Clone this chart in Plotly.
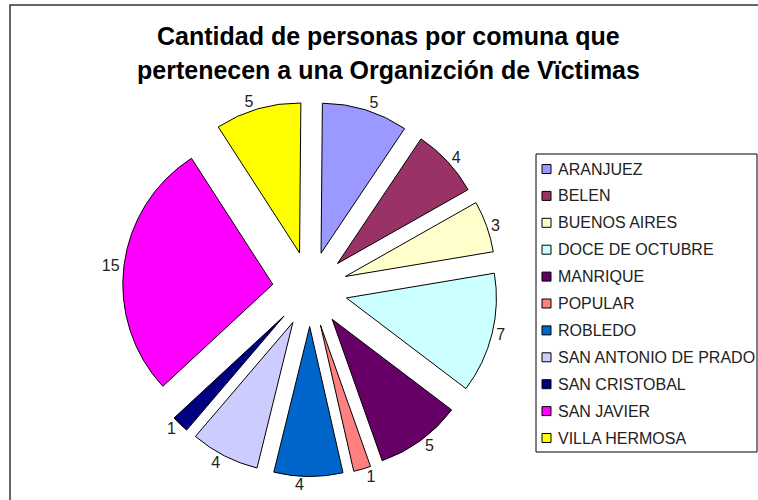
import plotly.graph_objects as go

# ---- data ----
comunas = ["ARANJUEZ", "BELEN", "BUENOS AIRES", "DOCE DE OCTUBRE", "MANRIQUE",
           "POPULAR", "ROBLEDO", "SAN ANTONIO DE PRADO", "SAN CRISTOBAL",
           "SAN JAVIER", "VILLA HERMOSA"]
personas = [5, 4, 3, 7, 5, 1, 4, 4, 1, 15, 5]
colores = ["#9999FF", "#993366", "#FFFFCC", "#CCFFFF", "#660066", "#FF8080",
           "#0066CC", "#CCCCFF", "#000080", "#FF00FF", "#FFFF00"]
titulo = ["Cantidad de personas por comuna que",
          "pertenecen a una Organizción de Vïctimas"]

W, H = 758, 500

def px(x):
    return x / W

def py(y):
    return 1 - y / H

# pie geometry (pixels)
CX, CY, HALF = 310, 289, 187.5

fig = go.Figure()
fig.add_trace(go.Pie(
    labels=comunas,
    values=personas,
    sort=False,
    direction="clockwise",
    rotation=0.5,
    pull=0.25,
    marker=dict(colors=colores, line=dict(color="#000000", width=1)),
    textinfo="value",
    textposition="outside",
    textfont=dict(family="Arial, Liberation Sans", size=16, color="#222222"),
    domain=dict(x=[px(CX - HALF), px(CX + HALF)], y=[py(CY + HALF), py(CY - HALF)]),
    showlegend=False,
    hoverinfo="label+value",
))

shapes = []
annotations = []

# chart border (extends beyond the visible window)
shapes.append(dict(type="rect", xref="paper", yref="paper",
                   x0=px(10), x1=1.2, y0=-0.2, y1=py(5),
                   line=dict(color="#333333", width=1.5), fillcolor="rgba(0,0,0,0)"))

# title
for i, line in enumerate(titulo):
    annotations.append(dict(text="<b>" + line + "</b>", xref="paper", yref="paper",
                            x=px(388.5), y=py(36 + 34 * i), xanchor="center", yanchor="middle",
                            showarrow=False,
                            font=dict(family="Arial, Liberation Sans", size=25, color="#000000")))

# legend box
shapes.append(dict(type="rect", xref="paper", yref="paper",
                   x0=px(536), x1=px(757), y0=py(452), y1=py(154),
                   line=dict(color="#000000", width=1), fillcolor="#FFFFFF"))
for i, (lab, col) in enumerate(zip(comunas, colores)):
    yc = 169 + 26.9 * i
    shapes.append(dict(type="rect", xref="paper", yref="paper",
                       x0=px(542), x1=px(551), y0=py(yc + 4.5), y1=py(yc - 4.5),
                       line=dict(color="#000000", width=1), fillcolor=col))
    annotations.append(dict(text=lab, xref="paper", yref="paper",
                            x=px(556), y=py(yc), xanchor="left", yanchor="middle",
                            showarrow=False,
                            font=dict(family="Arial, Liberation Sans", size=16, color="#222222")))

fig.update_layout(
    width=W, height=H, autosize=False,
    margin=dict(l=0, r=0, t=0, b=0, pad=0, autoexpand=False),
    paper_bgcolor="#FFFFFF",
    plot_bgcolor="#FFFFFF",
    shapes=shapes,
    annotations=annotations,
    showlegend=False,
)

fig.write_html("out.html",
               config={"displayModeBar": False},
               post_script="document.body.style.margin='0';document.body.style.overflow='hidden';")
